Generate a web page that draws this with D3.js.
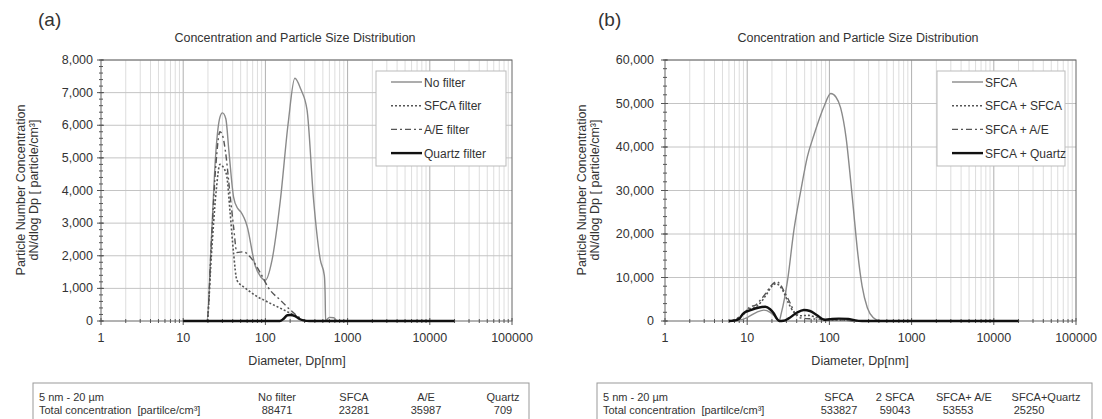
<!DOCTYPE html>
<html>
<head>
<meta charset="utf-8">
<script src="https://cdn.jsdelivr.net/npm/d3@7"></script>
<style>
  body { margin: 0; background: #fff; }
  text { font-family: Arial, "Liberation Sans", sans-serif; fill: #333; }
</style>
</head>
<body>
<script>
// ---- data: [diameter nm, dN/dlogDp] ----
const noFilter = [[10,0],[18,0],[19.5,0],[22,2500],[25,5200],[28,6250],[30,6380],[33,6200],[36,5200],[41,3800],[46,3450],[50,3350],[60,2900],[75,1700],[88,1350],[100,1250],[120,1850],[152,3700],[190,6100],[228,7440],[270,7100],[321,6470],[386,3700],[466,1870],[521,1400],[532,900],[540,0],[560,40],[600,110],[680,100],[750,0],[20000,0]];
const sfcaFilter = [[10,0],[18,0],[19.5,0],[22,2000],[25,3900],[28,4800],[31,4700],[34,4420],[37,3400],[41,2080],[45,1250],[54,1050],[65,900],[79,750],[100,620],[115,540],[150,400],[183,290],[242,130],[300,0],[20000,0]];
const aeFilter = [[10,0],[18,0],[19.5,0],[22,2400],[25,4800],[28,5800],[30,5700],[32.5,5240],[37,3920],[41,2890],[45,2100],[54,2120],[65,1970],[87,1470],[110,1000],[152,640],[201,340],[266,90],[310,0],[20000,0]];
const quartzFilter = [[10,0],[150,0],[165,60],[185,175],[200,185],[230,150],[260,60],[300,10],[340,0],[20000,0]];

const sfca = [[6,0],[8,200],[10,800],[13,2000],[16,2500],[19,2000],[22,900],[24.5,100],[26,1800],[31,9400],[37,20900],[45,30100],[54,37800],[65,42800],[86,49300],[104,52300],[120,51500],[137,49000],[160,42000],[182,32000],[200,24000],[220,16000],[250,8000],[290,3000],[340,800],[400,100],[450,0],[20000,0]];
const sfcaSfca = [[6,0],[7,300],[9,1500],[10.5,2800],[12,3000],[14.5,4200],[17,6000],[20,8000],[22.5,8600],[25,8000],[28,6500],[32,4000],[37,2000],[45,1200],[55,1300],[70,800],[90,300],[120,200],[160,200],[200,50],[250,0],[20000,0]];
const sfcaAe = [[6,0],[7,300],[9,1700],[10.9,3300],[12.5,3600],[14.5,4830],[17,6500],[19.1,7890],[22.9,9040],[25,8500],[27.6,7130],[33.3,4130],[38,1840],[45,700],[60,500],[80,400],[100,300],[150,200],[200,50],[250,0],[20000,0]];
const sfcaQuartz = [[6,0],[7,100],[8,500],[9,1770],[11,2500],[14,3100],[16.6,3290],[19,2700],[21,1770],[23,500],[24.5,0],[27.6,50],[32,600],[40,1900],[49,2530],[58,2300],[70,1400],[86,300],[100,400],[130,550],[170,500],[200,200],[250,0],[20000,0]];

const xTicks = [1, 10, 100, 1000, 10000, 100000];
const yTicksA = [0, 1000, 2000, 3000, 4000, 5000, 6000, 7000, 8000];
const yTicksB = [0, 10000, 20000, 30000, 40000, 50000, 60000];

const namesA = ['No filter', 'SFCA filter', 'A/E filter', 'Quartz filter'];
const namesB = ['SFCA', 'SFCA + SFCA', 'SFCA + A/E', 'SFCA + Quartz'];

const tableHeadA = ['No filter', 'SFCA', 'A/E', 'Quartz'];
const tableValA = ['88471', '23281', '35987', '709'];
const tableHeadB = ['SFCA', '2 SFCA', 'SFCA+ A/E', 'SFCA+Quartz'];
const tableValB = ['533827', '59043', '53553', '25250'];

// line styles for the four series in each panel
const styles = [
  { stroke: '#8a8a8a', width: 1.4, dash: null },
  { stroke: '#555', width: 1.6, dash: '2,2' },
  { stroke: '#555', width: 1.4, dash: '6,3,2,3' },
  { stroke: '#111', width: 2.4, dash: null }
];

const svg = d3.select('body').append('svg')
  .attr('width', 1102)
  .attr('height', 419);

function drawPanel(p) {
  const g = svg.append('g');
  const top = 60, bottom = 321;
  const x = d3.scaleLog().domain([1, 100000]).range([p.left, p.right]);
  const y = d3.scaleLinear().domain([0, p.yTicks[p.yTicks.length - 1]]).range([bottom, top]);

  // minor decade values 2..9
  const minor = [];
  for (let e = 0; e < 5; e++) for (let k = 2; k < 10; k++) minor.push(k * Math.pow(10, e));

  // vertical grid
  g.selectAll('line.vmin').data(minor).enter().append('line')
    .attr('x1', d => x(d)).attr('x2', d => x(d))
    .attr('y1', top).attr('y2', bottom)
    .attr('stroke', '#dddddd').attr('stroke-width', 1);
  g.selectAll('line.vmaj').data(xTicks.slice(1, -1)).enter().append('line')
    .attr('x1', d => x(d)).attr('x2', d => x(d))
    .attr('y1', top).attr('y2', bottom)
    .attr('stroke', '#b0b0b0').attr('stroke-width', 1);

  // horizontal grid
  g.selectAll('line.hgrid').data(p.yTicks.slice(1)).enter().append('line')
    .attr('x1', p.left).attr('x2', p.right)
    .attr('y1', d => y(d)).attr('y2', d => y(d))
    .attr('stroke', '#c4c4c4').attr('stroke-width', 1);

  // frame
  g.append('rect')
    .attr('x', p.left).attr('y', top)
    .attr('width', p.right - p.left).attr('height', bottom - top)
    .attr('fill', 'none').attr('stroke', '#666').attr('stroke-width', 1);

  // y ticks, major and minor
  const step = p.yTicks[1] / 5;
  const yMinor = d3.range(0, p.yTicks[p.yTicks.length - 1] + 1, step);
  g.selectAll('line.ymin').data(yMinor).enter().append('line')
    .attr('x1', p.left - 2).attr('x2', p.left + 2)
    .attr('y1', d => y(d)).attr('y2', d => y(d))
    .attr('stroke', '#555');
  g.selectAll('line.ymaj').data(p.yTicks).enter().append('line')
    .attr('x1', p.left - 4).attr('x2', p.left + 3)
    .attr('y1', d => y(d)).attr('y2', d => y(d))
    .attr('stroke', '#555');
  g.selectAll('text.ylab').data(p.yTicks).enter().append('text')
    .attr('x', p.left - p.yLabGap).attr('y', d => y(d) + 4)
    .attr('text-anchor', 'end').attr('font-size', 12.5)
    .text(d => d3.format(',')(d));

  // x ticks
  g.selectAll('line.xmin').data(minor).enter().append('line')
    .attr('x1', d => x(d)).attr('x2', d => x(d))
    .attr('y1', bottom - 2).attr('y2', bottom + 2)
    .attr('stroke', '#555');
  g.selectAll('line.xmaj').data(xTicks).enter().append('line')
    .attr('x1', d => x(d)).attr('x2', d => x(d))
    .attr('y1', bottom - 3).attr('y2', bottom + 4)
    .attr('stroke', '#555');
  g.selectAll('text.xlab').data(xTicks).enter().append('text')
    .attr('x', d => x(d)).attr('y', bottom + 21)
    .attr('text-anchor', 'middle').attr('font-size', 12.5)
    .text(d => d);

  // curves
  const line = d3.line()
    .x(d => x(d[0]))
    .y(d => y(d[1]))
    .curve(d3.curveMonotoneX);
  p.series.forEach((s, i) => {
    g.append('path')
      .attr('d', line(s))
      .attr('fill', 'none')
      .attr('stroke', styles[i].stroke)
      .attr('stroke-width', styles[i].width)
      .attr('stroke-dasharray', styles[i].dash);
  });

  // axis titles
  g.append('text').attr('x', p.titleX).attr('y', 42)
    .attr('text-anchor', 'middle').attr('font-size', 12.5)
    .text('Concentration and Particle Size Distribution');
  g.append('text').attr('x', p.titleX + 2).attr('y', 365)
    .attr('text-anchor', 'middle').attr('font-size', 12.5)
    .text('Diameter, Dp[nm]');
  g.append('text')
    .attr('transform', `translate(${p.yTitleX},190) rotate(-90)`)
    .attr('text-anchor', 'middle').attr('font-size', 12.5)
    .text('Particle Number Concentration');
  g.append('text')
    .attr('transform', `translate(${p.yTitleX + 13},190) rotate(-90)`)
    .attr('text-anchor', 'middle').attr('font-size', 12.5)
    .text('dN/dlog Dp [ particle/cm³]');
  g.append('text').attr('x', p.tagX).attr('y', 26)
    .attr('font-size', 19).attr('fill', '#111')
    .text(p.tag);

  // legend
  const lg = g.append('g');
  lg.append('rect')
    .attr('x', p.legX).attr('y', 71).attr('width', p.legW).attr('height', 95)
    .attr('fill', '#fff').attr('stroke', '#bbb');
  p.names.forEach((n, i) => {
    const ly = 82 + i * 23.7;
    lg.append('line')
      .attr('x1', p.legX + 15).attr('x2', p.legX + 46)
      .attr('y1', ly).attr('y2', ly)
      .attr('stroke', styles[i].stroke)
      .attr('stroke-width', styles[i].width)
      .attr('stroke-dasharray', styles[i].dash);
    lg.append('text').attr('x', p.legX + 48).attr('y', ly + 4.5)
      .attr('font-size', 12).text(n);
  });

  // table under the chart
  const tg = g.append('g');
  tg.append('rect')
    .attr('x', p.tabX).attr('y', 383).attr('width', p.tabW).attr('height', 50)
    .attr('fill', 'none').attr('stroke', '#999');
  tg.append('text').attr('x', p.tabX + 6).attr('y', 401).attr('font-size', 11).text('5 nm - 20 µm');
  tg.append('text').attr('x', p.tabX + 6).attr('y', 414).attr('font-size', 11)
    .attr('xml:space', 'preserve').style('white-space', 'pre')
    .text('Total concentration  [partilce/cm³]');
  p.tabHead.forEach((h, i) => {
    tg.append('text').attr('x', p.tabCols[i]).attr('y', 401)
      .attr('text-anchor', 'middle').attr('font-size', 11).text(h);
    tg.append('text').attr('x', p.tabValCols[i]).attr('y', 414)
      .attr('text-anchor', 'middle').attr('font-size', 11).text(p.tabVal[i]);
  });
}

drawPanel({
  left: 101, right: 512, yTicks: yTicksA, yLabGap: 8, yTitleX: 25,
  series: [noFilter, sfcaFilter, aeFilter, quartzFilter],
  names: namesA, tag: '(a)', tagX: 38, titleX: 295,
  legX: 376, legW: 130,
  tabX: 33, tabW: 496, tabHead: tableHeadA, tabVal: tableValA,
  tabCols: [277, 354, 426, 503], tabValCols: [277, 354, 426, 503]
});

drawPanel({
  left: 665, right: 1076, yTicks: yTicksB, yLabGap: 11, yTitleX: 586,
  series: [sfca, sfcaSfca, sfcaAe, sfcaQuartz],
  names: namesB, tag: '(b)', tagX: 598, titleX: 858,
  legX: 937, legW: 128,
  tabX: 597, tabW: 495, tabHead: tableHeadB, tabVal: tableValB,
  tabCols: [839, 895, 964, 1046], tabValCols: [839, 895, 958, 1029]
});
</script>
</body>
</html>
